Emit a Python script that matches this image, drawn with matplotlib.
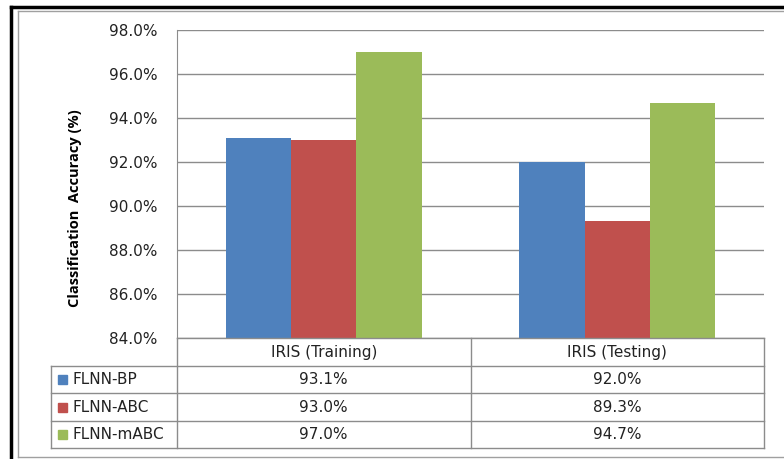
import matplotlib
matplotlib.use("Agg")
import matplotlib.pyplot as plt
from matplotlib.lines import Line2D
from matplotlib.patches import Rectangle
import numpy as np

categories = ["IRIS (Training)", "IRIS (Testing)"]
series_names = ["FLNN-BP", "FLNN-ABC", "FLNN-mABC"]
flnn_bp = [93.1, 92.0]
flnn_abc = [93.0, 89.3]
flnn_mabc = [97.0, 94.7]
series_values = [flnn_bp, flnn_abc, flnn_mabc]
colors = ["#4F81BD", "#C0504D", "#9BBB59"]
y_ticks = [84, 86, 88, 90, 92, 94, 96, 98]
y_label = "Classification  Accuracy (%)"

W, H = 784, 459
plt.rcParams['font.family'] = ['DejaVu Sans']
fig = plt.figure(figsize=(W / 100, H / 100), dpi=100)

def fx(x):
    return x / W

def fy(y):
    return 1 - y / H

def hline(x0, x1, y, color="#8C8C8C", lw=1.0):
    fig.add_artist(Line2D([fx(x0), fx(x1)], [fy(y), fy(y)], color=color, lw=lw,
                          transform=fig.transFigure))

def vline(x, y0, y1, color="#8C8C8C", lw=1.0):
    fig.add_artist(Line2D([fx(x), fx(x)], [fy(y0), fy(y1)], color=color, lw=lw,
                          transform=fig.transFigure))

# outer borders
vline(11, 7, 459, color="black", lw=2.5)
hline(11, 784, 7, color="black", lw=2.5)
vline(18, 11, 457, color="#A0A0A0", lw=1.0)
hline(18, 784, 11, color="#A0A0A0", lw=1.0)
hline(18, 784, 457, color="#A0A0A0", lw=1.0)

# plot axes
L, R, T, B = 177, 764, 30, 338
ax = fig.add_axes([fx(L), fy(B), fx(R) - fx(L), fy(T) - fy(B)])
n = len(categories)
x = np.arange(n)
bw = 1 / 4.5
for i, (vals, c) in enumerate(zip(series_values, colors)):
    ax.bar(x + (i - 1) * bw, vals, width=bw, color=c, zorder=3)
ax.set_xlim(-0.5, n - 0.5)
ax.set_ylim(84, 98)
ax.set_yticks(y_ticks)
ax.set_yticklabels([f"{v:.1f}%" for v in y_ticks], fontsize=11, color="#222222")
ax.yaxis.grid(True, color="#8C8C8C", lw=1.0, zorder=0)
ax.set_xticks([])
ax.tick_params(axis='y', length=0, pad=14)
for s in ["top", "right", "bottom"]:
    ax.spines[s].set_visible(False)
ax.spines["left"].set_color("#8C8C8C")
ax.set_facecolor("white")

fig.text(fx(75), fy(208), y_label, rotation=90, ha="center", va="center",
         fontsize=10.5, fontweight="bold", color="black", family=["Open Sans", "DejaVu Sans"])

# data table
rows_y = [338, 366, 393, 421, 448]
TL = 51
col_div = (L + R) / 2
hline(L, R, rows_y[0])
for yy in rows_y[1:]:
    hline(TL, R, yy)
vline(L, rows_y[0], rows_y[-1])
vline(col_div, rows_y[0], rows_y[-1])
vline(R, rows_y[0], rows_y[-1])
vline(TL, rows_y[1], rows_y[-1])

col_centers = [(L + col_div) / 2, (col_div + R) / 2]
for j, cat in enumerate(categories):
    fig.text(fx(col_centers[j]), fy((rows_y[0] + rows_y[1]) / 2), cat,
             ha="center", va="center", fontsize=11, color="#222222")
for i, (name, vals, c) in enumerate(zip(series_names, series_values, colors)):
    yc = (rows_y[i + 1] + rows_y[i + 2]) / 2
    fig.add_artist(Rectangle((fx(58), fy(yc + 4.5)), fx(9), 9 / H, color=c,
                             transform=fig.transFigure))
    fig.text(fx(73), fy(yc), name, ha="left", va="center", fontsize=11, color="#222222")
    for j, v in enumerate(vals):
        fig.text(fx(col_centers[j]), fy(yc), f"{v:.1f}%", ha="center", va="center",
                 fontsize=11, color="#222222")

fig.savefig("out.png", dpi=100)
